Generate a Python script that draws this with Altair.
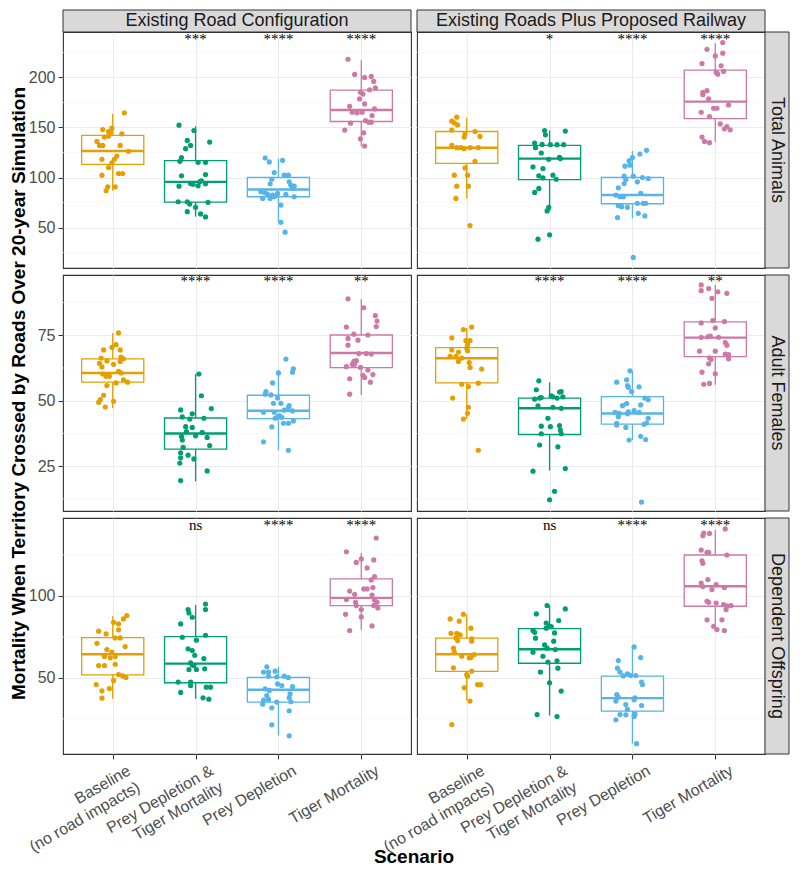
import json
import altair as alt
import pandas as pd

# ---------------- data ----------------
SCENARIOS = ["Baseline\n(no road impacts)", "Prey Depletion &\nTiger Mortality",
             "Prey Depletion", "Tiger Mortality"]
SCENARIO_KEYS = ["Baseline", "Prey Depletion & Tiger Mortality", "Prey Depletion", "Tiger Mortality"]
COLORS = ["#E69F00", "#009E73", "#56B4E9", "#CC79A7"]
CONFIGS = ["Existing Road Configuration", "Existing Roads Plus Proposed Railway"]
METRICS = ["Total Animals", "Adult Females", "Dependent Offspring"]
Y_TITLE = "Mortality When Territory Crossed by Roads Over 20-year Simulation"
X_TITLE = "Scenario"

Y_DOMAINS = [[9.6, 245.4], [7.9, 98.0], [3.5, 147.6]]
Y_MAJOR = [[50, 100, 150, 200], [25, 50, 75], [50, 100]]
Y_MINOR = [[25, 75, 125, 175, 225], [12.5, 37.5, 62.5, 87.5], [25, 75, 125]]
SIG_Y = [238.7, 95.7, 143.5]

SIG_TA_ROAD = ["", "***", "****", "****"]
SIG_TA_RAIL = ["", "*", "****", "****"]
SIG_AF_ROAD = ["", "****", "****", "**"]
SIG_AF_RAIL = ["", "****", "****", "**"]
SIG_DO_ROAD = ["", "ns", "****", "****"]
SIG_DO_RAIL = ["", "ns", "****", "****"]

# box statistics per scenario: (lower whisker, q1, median, q3, upper whisker)
BOX_TA_ROAD = [(86.8, 113.2, 126.5, 142.1, 163.6), (60.9, 75.5, 95.7, 116.9, 151.3),
               (55.3, 80.8, 88.1, 100.0, 118.9), (131.5, 156.0, 167.5, 187.4, 217.2)]
BOX_TA_RAIL = [(79.1, 114.2, 129.8, 146.0, 159.6), (66.6, 98.0, 118.9, 132.1, 147.0),
               (59.3, 73.8, 82.5, 100.0, 126.5), (135.4, 158.9, 175.8, 207.3, 234.1)]
BOX_AF_ROAD = [(47.1, 57.1, 60.6, 66.0, 75.9), (19.2, 31.5, 37.5, 43.4, 60.2),
               (31.1, 43.2, 46.2, 52.1, 61.8), (52.2, 62.6, 68.2, 75.1, 88.7)]
BOX_AF_RAIL = [(43.0, 56.8, 66.2, 70.3, 77.8), (23.3, 37.1, 47.1, 51.0, 57.0),
               (35.0, 41.1, 45.1, 51.6, 61.4), (56.1, 66.8, 74.1, 80.1, 94.2)]
BOX_DO_ROAD = [(37.2, 51.8, 64.4, 74.6, 87.6), (37.2, 47.0, 58.7, 75.2, 94.5),
               (14.8, 35.2, 42.7, 50.2, 56.7), (79.3, 94.1, 98.8, 110.4, 126.2)]
BOX_DO_RAIL = [(36.2, 53.9, 64.4, 74.2, 88.8), (27.0, 58.9, 67.5, 80.1, 94.1),
               (9.8, 29.7, 37.6, 51.0, 68.9), (78.9, 93.7, 105.9, 125.0, 140.4)]

# jittered points: (jitter offset in category units, value)
TA_ROAD_BASE = [(0.14,164.6),(-0.12,148.0),(-0.01,149.3),(-0.05,146.0),(-0.03,144.7),(-0.10,140.4),(-0.05,141.4),(0.11,143.7),(-0.19,136.1),(-0.16,132.1),(-0.12,132.1),(0.09,132.1),(0.19,126.2),(0.05,121.5),(0.02,118.2),(-0.13,118.2),(-0.01,114.6),(-0.05,109.9),(-0.13,102.3),(0.07,104.0),(0.12,104.0),(-0.06,90.7),(0.03,90.7),(-0.08,86.8)]
TA_ROAD_PDTM = [(-0.20,152.3),(-0.02,147.0),(-0.10,137.1),(0.17,135.4),(-0.06,132.1),(-0.12,128.8),(-0.17,119.9),(-0.19,116.2),(0.03,115.2),(0.12,115.2),(-0.17,101.7),(0.12,103.0),(-0.20,91.4),(-0.06,94.0),(-0.03,93.4),(0.05,95.7),(0.07,96.7),(0.03,91.7),(0.12,93.7),(-0.21,75.8),(-0.10,75.8),(-0.07,73.5),(0.00,70.2),(0.15,75.2),(-0.10,65.9),(0.06,63.6),(0.12,60.6)]
TA_ROAD_PD = [(-0.16,119.5),(-0.11,115.6),(0.05,117.2),(-0.05,105.0),(0.07,102.3),(0.12,102.3),(-0.08,98.3),(-0.10,93.7),(0.13,95.7),(0.15,92.4),(0.19,91.4),(0.17,89.1),(-0.21,85.8),(-0.16,84.8),(-0.13,83.1),(-0.07,82.5),(-0.01,84.1),(-0.19,79.1),(-0.10,79.1),(-0.05,80.8),(0.09,83.1),(0.19,80.8),(0.03,72.5),(0.03,55.3),(0.08,45.4)]
TA_ROAD_TM = [(-0.16,218.2),(-0.08,203.0),(0.04,200.0),(0.12,201.0),(0.15,196.0),(0.10,187.7),(0.17,189.7),(-0.01,185.1),(0.02,183.4),(-0.02,178.5),(0.04,173.5),(-0.14,171.2),(0.16,168.5),(-0.11,165.2),(-0.05,164.6),(0.01,165.2),(0.13,161.9),(0.05,157.0),(0.09,155.3),(0.12,155.3),(-0.13,154.3),(-0.20,147.4),(0.03,144.7),(-0.01,138.7),(0.04,131.5)]

TA_RAIL_BASE = [(-0.12,160.3),(-0.18,156.3),(-0.15,154.6),(-0.11,152.6),(-0.18,147.4),(-0.02,143.7),(0.10,146.0),(0.16,141.1),(-0.03,140.4),(-0.18,132.1),(-0.12,129.8),(-0.07,129.8),(-0.03,128.8),(0.04,129.8),(0.14,129.8),(0.10,116.2),(-0.02,109.6),(-0.15,102.3),(0.01,102.3),(-0.12,91.4),(0.02,91.4),(-0.13,79.1),(0.04,52.0)]
TA_RAIL_PDTM = [(-0.06,147.0),(-0.05,142.7),(0.19,146.4),(-0.18,134.4),(-0.09,133.1),(-0.17,129.8),(0.01,132.8),(0.09,132.8),(0.17,132.8),(-0.10,124.5),(0.12,120.2),(-0.01,118.2),(0.13,118.9),(-0.20,110.6),(-0.08,108.9),(0.04,102.3),(-0.13,101.7),(-0.08,99.7),(0.08,98.3),(-0.13,89.1),(-0.18,85.1),(-0.01,70.2),(-0.03,66.6),(0.00,42.7),(-0.14,38.4)]
TA_RAIL_PD = [(0.17,127.2),(0.09,123.5),(0.00,119.9),(-0.04,116.6),(-0.09,111.3),(-0.03,112.3),(-0.10,101.3),(0.01,101.3),(0.12,100.0),(0.19,99.0),(-0.08,98.0),(0.06,95.7),(-0.10,94.0),(-0.17,89.7),(0.10,84.1),(-0.20,82.5),(-0.15,80.8),(-0.11,80.8),(-0.17,71.9),(-0.13,70.9),(-0.06,70.2),(0.06,74.2),(0.13,74.2),(0.16,74.2),(0.07,64.2),(0.15,61.6),(-0.18,60.0),(0.01,20.2)]
TA_RAIL_TM = [(0.09,234.8),(-0.10,228.1),(0.00,221.5),(0.09,224.2),(-0.16,213.9),(0.07,211.6),(0.01,205.0),(0.03,203.3),(0.10,206.0),(-0.15,185.1),(-0.10,186.8),(-0.15,182.8),(-0.08,178.5),(0.16,172.5),(-0.02,169.2),(0.02,169.2),(-0.17,165.2),(-0.07,160.9),(0.06,153.6),(0.14,151.0),(0.11,148.7),(0.18,147.7),(-0.16,140.4),(-0.13,136.1),(-0.07,134.8)]

AF_ROAD_BASE = [(0.07,75.9),(0.04,71.4),(-0.01,70.4),(-0.11,69.4),(0.09,69.4),(-0.14,66.3),(0.10,66.7),(0.13,66.0),(-0.07,65.2),(-0.16,64.3),(0.01,63.9),(0.09,65.0),(-0.13,62.9),(-0.12,60.2),(-0.05,59.7),(0.07,61.2),(0.10,60.6),(-0.08,59.3),(-0.04,59.3),(0.13,58.0),(0.18,57.1),(0.04,56.8),(-0.07,55.8),(-0.11,52.1),(-0.15,50.4),(-0.17,49.4),(0.01,49.8),(-0.09,47.6)]
AF_ROAD_PDTM = [(0.04,60.2),(0.07,51.9),(-0.18,46.5),(0.19,47.0),(-0.04,45.0),(-0.16,43.8),(-0.07,43.0),(0.10,43.3),(-0.12,40.1),(-0.04,39.8),(-0.11,38.2),(-0.17,36.3),(0.00,36.6),(0.08,37.9),(0.14,36.0),(-0.16,35.0),(-0.15,32.2),(0.17,32.9),(-0.18,30.1),(-0.09,29.2),(-0.18,28.2),(-0.02,27.8),(-0.19,26.2),(0.14,23.2),(-0.18,19.5)]
AF_ROAD_PD = [(0.09,65.9),(0.18,62.2),(0.17,60.9),(0.00,60.6),(-0.07,56.8),(-0.15,53.5),(-0.09,52.2),(-0.16,52.5),(-0.01,51.0),(-0.06,49.0),(0.03,49.0),(0.13,48.1),(0.12,47.4),(-0.18,45.6),(-0.05,45.6),(0.07,46.4),(0.17,46.1),(0.01,44.3),(-0.01,43.8),(-0.04,43.3),(0.04,43.7),(0.06,41.4),(0.12,41.4),(0.18,42.3),(-0.08,40.0),(-0.18,34.3),(0.12,31.1)]
AF_ROAD_TM = [(-0.16,88.9),(0.03,85.5),(0.17,82.5),(0.19,80.4),(0.18,78.3),(-0.18,78.1),(-0.09,75.4),(0.08,75.1),(-0.16,73.8),(-0.04,73.1),(-0.16,71.2),(-0.03,68.0),(0.06,68.0),(0.12,67.8),(-0.09,65.0),(-0.06,65.3),(-0.11,63.9),(-0.08,63.9),(-0.18,63.0),(-0.01,62.7),(0.08,61.7),(0.02,59.7),(0.04,58.9),(0.14,60.0),(-0.14,58.4),(0.11,57.1),(-0.14,52.5)]

AF_RAIL_BASE = [(-0.04,77.2),(0.06,78.1),(-0.18,74.0),(-0.01,73.0),(0.04,73.0),(0.01,71.4),(0.00,70.1),(-0.18,69.4),(0.01,69.1),(-0.10,68.6),(-0.20,66.9),(-0.13,66.9),(-0.06,66.3),(-0.10,65.0),(0.03,64.6),(0.04,62.7),(0.18,62.1),(-0.06,56.3),(0.02,55.4),(0.14,56.7),(-0.17,51.0),(0.02,47.5),(0.01,45.2),(-0.04,43.0),(0.14,31.1)]
AF_RAIL_PDTM = [(-0.13,57.6),(-0.16,54.2),(0.14,53.5),(0.12,53.3),(-0.18,50.6),(-0.12,51.0),(-0.10,51.2),(0.02,51.9),(0.04,51.5),(0.09,51.0),(0.16,51.5),(-0.14,48.0),(0.04,47.5),(0.14,47.1),(-0.02,43.3),(-0.10,40.3),(0.01,40.1),(0.12,40.5),(0.13,38.8),(-0.10,37.4),(0.14,37.4),(-0.12,33.1),(0.10,32.4),(-0.20,23.1),(0.19,24.1),(0.06,15.4),(0.00,12.2)]
AF_RAIL_PD = [(-0.03,61.4),(-0.19,57.1),(-0.07,58.0),(0.08,55.3),(-0.06,55.8),(-0.05,55.1),(-0.01,53.5),(0.15,51.0),(0.19,50.4),(-0.07,48.9),(-0.12,48.1),(0.10,48.4),(-0.16,45.2),(-0.05,45.8),(0.02,46.2),(0.08,45.6),(-0.21,45.6),(-0.17,43.9),(-0.06,45.0),(0.19,43.3),(-0.19,41.4),(-0.19,40.7),(-0.08,39.8),(0.14,41.0),(0.17,41.5),(0.10,36.4),(0.16,35.2),(-0.04,35.0),(0.11,11.3)]
AF_RAIL_TM = [(-0.17,94.2),(-0.17,92.0),(-0.08,92.8),(0.03,91.6),(0.14,91.0),(-0.04,89.1),(-0.17,79.7),(-0.03,80.6),(0.11,80.2),(0.00,77.8),(-0.09,74.4),(-0.06,74.7),(-0.17,74.2),(0.04,74.2),(0.12,72.2),(0.14,71.2),(-0.19,68.9),(0.00,68.9),(0.12,67.8),(0.16,67.6),(0.16,66.0),(-0.07,66.4),(-0.05,65.8),(-0.08,64.1),(-0.16,60.9),(0.00,60.3),(-0.14,56.3),(-0.07,56.6)]

DO_ROAD_BASE = [(0.17,88.0),(0.13,86.0),(0.01,83.9),(0.07,82.9),(0.07,79.3),(-0.17,78.5),(-0.08,76.8),(0.03,74.4),(0.09,74.4),(-0.19,71.1),(0.15,69.1),(-0.07,67.3),(-0.01,65.7),(-0.10,63.0),(-0.03,62.2),(0.03,63.0),(0.03,58.3),(-0.17,57.5),(-0.10,57.5),(0.07,52.0),(0.12,51.2),(0.16,50.2),(0.01,48.4),(-0.20,45.9),(-0.04,43.5),(-0.13,42.1),(-0.13,37.6)]
DO_ROAD_PDTM = [(0.12,95.1),(0.12,91.7),(-0.09,91.7),(-0.08,89.6),(-0.04,87.0),(-0.18,82.9),(-0.16,74.8),(0.12,76.0),(0.01,73.0),(-0.09,67.7),(-0.04,66.7),(0.10,61.8),(-0.01,63.8),(-0.06,59.1),(-0.04,57.9),(-0.02,57.5),(-0.08,55.1),(0.11,55.5),(0.01,55.1),(-0.21,47.4),(-0.06,47.4),(-0.06,45.3),(0.13,44.3),(0.18,44.3),(-0.18,41.1),(0.09,37.8),(0.16,37.0)]
DO_ROAD_PD = [(-0.14,56.7),(-0.18,53.5),(-0.12,53.5),(-0.04,54.1),(-0.12,51.0),(-0.02,50.6),(0.07,51.0),(0.12,50.2),(-0.01,46.3),(0.04,45.3),(0.17,44.7),(-0.16,43.3),(-0.11,42.3),(0.14,40.2),(-0.14,39.2),(-0.18,36.4),(-0.12,36.8),(-0.02,35.2),(0.15,35.4),(0.13,37.8),(-0.19,33.9),(-0.08,31.7),(0.13,29.9),(-0.08,21.3),(0.13,14.6)]
DO_ROAD_TM = [(0.18,135.4),(-0.18,127.0),(0.00,122.6),(-0.06,120.5),(0.15,122.0),(0.07,117.1),(0.16,111.8),(0.12,109.8),(0.03,104.3),(0.07,104.3),(0.14,105.1),(-0.14,103.0),(-0.08,101.0),(0.13,100.6),(-0.18,97.8),(-0.07,96.1),(0.16,97.6),(0.19,96.1),(0.15,94.1),(0.20,92.7),(-0.06,94.1),(0.00,91.7),(-0.19,88.8),(0.00,87.2),(-0.14,78.9),(0.13,81.7)]

DO_RAIL_BASE = [(-0.04,88.8),(-0.20,86.0),(-0.09,84.6),(0.05,80.3),(-0.19,77.2),(-0.12,77.2),(-0.08,76.2),(-0.13,74.4),(-0.11,72.8),(0.06,73.8),(0.06,72.4),(-0.16,68.1),(-0.15,65.7),(-0.06,63.2),(0.09,64.2),(0.05,62.4),(0.03,62.2),(-0.16,56.1),(0.06,54.1),(0.00,52.0),(0.01,51.0),(0.13,45.9),(0.17,45.9),(-0.03,43.9),(0.04,35.8),(-0.18,21.5)]
DO_RAIL_PDTM = [(-0.03,94.1),(0.19,92.1),(-0.16,89.0),(0.11,85.0),(-0.04,83.5),(-0.04,80.3),(0.00,81.5),(0.02,81.3),(-0.20,78.9),(-0.18,77.8),(0.06,77.4),(-0.17,74.2),(0.05,72.4),(-0.06,70.1),(-0.20,65.7),(0.07,67.3),(-0.03,68.1),(-0.08,63.2),(-0.02,59.6),(0.09,60.4),(0.10,55.9),(-0.11,53.5),(0.00,47.0),(0.14,41.9),(-0.15,27.6),(0.09,26.4)]
DO_RAIL_PD = [(0.02,68.9),(0.10,62.4),(-0.17,60.6),(-0.18,55.9),(-0.15,53.5),(-0.11,51.2),(-0.06,52.4),(-0.02,51.4),(0.04,51.4),(0.11,47.4),(0.12,45.9),(-0.19,39.8),(-0.17,38.2),(0.03,37.8),(-0.08,33.7),(0.11,33.1),(-0.20,35.8),(0.02,36.6),(-0.06,30.7),(-0.15,27.6),(-0.08,27.4),(0.03,28.0),(0.02,26.4),(-0.20,24.4),(0.05,9.8)]
DO_RAIL_TM = [(0.12,140.9),(-0.14,138.4),(-0.15,136.8),(-0.07,138.2),(-0.17,128.0),(-0.10,126.6),(-0.08,126.6),(0.14,125.0),(-0.16,121.5),(-0.15,119.9),(-0.09,110.0),(-0.17,107.9),(0.01,106.9),(-0.15,105.7),(0.11,105.1),(-0.04,103.9),(-0.10,96.7),(-0.08,96.1),(0.01,95.7),(0.10,94.7),(0.14,93.9),(0.19,94.1),(0.13,91.7),(-0.10,85.4),(0.08,85.4),(-0.02,81.5),(0.02,79.5),(0.11,78.9)]

PANELS = [
    [([TA_ROAD_BASE, TA_ROAD_PDTM, TA_ROAD_PD, TA_ROAD_TM], BOX_TA_ROAD, SIG_TA_ROAD),
     ([TA_RAIL_BASE, TA_RAIL_PDTM, TA_RAIL_PD, TA_RAIL_TM], BOX_TA_RAIL, SIG_TA_RAIL)],
    [([AF_ROAD_BASE, AF_ROAD_PDTM, AF_ROAD_PD, AF_ROAD_TM], BOX_AF_ROAD, SIG_AF_ROAD),
     ([AF_RAIL_BASE, AF_RAIL_PDTM, AF_RAIL_PD, AF_RAIL_TM], BOX_AF_RAIL, SIG_AF_RAIL)],
    [([DO_ROAD_BASE, DO_ROAD_PDTM, DO_ROAD_PD, DO_ROAD_TM], BOX_DO_ROAD, SIG_DO_ROAD),
     ([DO_RAIL_BASE, DO_RAIL_PDTM, DO_RAIL_PD, DO_RAIL_TM], BOX_DO_RAIL, SIG_DO_RAIL)],
]

# ---------------- layout / style ----------------
W, H = 348, 236
STRIP_TOP, STRIP_RIGHT = 22, 24
BOX_W = 0.75
X_DOMAIN = [0.4, 4.6]
FONT = "Liberation Sans"
GRID = "#EBEBEB"
LABEL_GREY = "#4D4D4D"

label_expr = "".join(
    f"datum.value == {k + 1} ? {json.dumps(s.split(chr(10)))} : " for k, s in enumerate(SCENARIOS)
) + "''"

color_scale = alt.Scale(domain=SCENARIO_KEYS, range=COLORS)


def x_axis(bottom):
    if bottom:
        return alt.Axis(values=[1, 2, 3, 4], grid=True, gridColor=GRID, domain=False,
                        labels=True, ticks=True, tickSize=5, tickColor="#333333",
                        labelExpr=label_expr, labelAngle=-30, labelAlign="right",
                        labelBaseline="top", labelPadding=3, labelOffset=12,
                        labelFontSize=16, labelColor=LABEL_GREY, labelLineHeight=19,
                        labelOverlap=False, labelFlush=False, labelFont=FONT, title=None)
    return alt.Axis(values=[1, 2, 3, 4], grid=True, gridColor=GRID, domain=False,
                    labels=False, ticks=False, title=None)


def y_axis(r, c):
    if c == 0:
        kw = dict(values=Y_MAJOR[r], grid=True, gridColor=GRID, domain=False,
                  labels=True, ticks=True, tickSize=5, tickColor="#333333",
                  labelFontSize=16, labelColor=LABEL_GREY, labelPadding=3,
                  labelFlush=False, labelOverlap=False, labelFont=FONT)
        if r == 1:
            return alt.Axis(title=Y_TITLE, titleFontSize=19, titleFontWeight="bold",
                            titleColor="black", titlePadding=9, titleFont=FONT, **kw)
        return alt.Axis(title=None, **kw)
    return alt.Axis(values=Y_MAJOR[r], grid=True, gridColor=GRID, domain=False,
                    labels=False, ticks=False, title=None)


def build_panel(r, c):
    groups, box, sig = PANELS[r][c]
    xs = alt.Scale(domain=X_DOMAIN, nice=False, zero=False)
    ys = alt.Scale(domain=Y_DOMAINS[r], nice=False, zero=False)
    xa = x_axis(r == 2)
    ya = y_axis(r, c)

    def X(f):
        return alt.X(f, type="quantitative", scale=xs, axis=xa)

    def Y(f):
        return alt.Y(f, type="quantitative", scale=ys, axis=ya)

    pts = pd.DataFrame([
        {"scenario": SCENARIO_KEYS[k], "x": k + 1 + j, "value": v}
        for k, grp in enumerate(groups) for j, v in grp
    ])
    bx = pd.DataFrame([
        {"scenario": SCENARIO_KEYS[k], "x": k + 1, "x_lo": k + 1 - BOX_W / 2,
         "x_hi": k + 1 + BOX_W / 2, "lo": b[0], "q1": b[1], "med": b[2], "q3": b[3],
         "hi": b[4], "sig": sig[k], "sig_y": SIG_Y[r]}
        for k, b in enumerate(box)
    ])
    minor = pd.DataFrame({"m": Y_MINOR[r]})
    one = pd.DataFrame({"k": [0]})

    col = alt.Color("scenario:N", scale=color_scale, legend=None)
    stroke = alt.Stroke("scenario:N", scale=color_scale, legend=None)

    minor_l = alt.Chart(minor).mark_rule(color="#F3F3F3", strokeWidth=0.6).encode(y=Y("m"))
    base = alt.Chart(bx)
    whisk_hi = base.mark_rule(strokeWidth=1.3).encode(x=X("x"), y=Y("q3"), y2="hi", color=col)
    whisk_lo = base.mark_rule(strokeWidth=1.3).encode(x=X("x"), y=Y("lo"), y2="q1", color=col)
    rect = base.mark_rect(fill="white", strokeWidth=1.3).encode(
        x=X("x_lo"), x2="x_hi", y=Y("q1"), y2="q3", stroke=stroke)
    med = base.mark_rule(strokeWidth=2.4).encode(x=X("x_lo"), x2="x_hi", y=Y("med"), color=col)
    points = alt.Chart(pts).mark_circle(size=27, opacity=1).encode(
        x=X("x"), y=Y("value"), color=col)
    sig_l = base.mark_text(font="Liberation Serif", fontSize=15, color="black",
                           baseline="middle").encode(x=X("x"), y=Y("sig_y"), text="sig:N")

    layers = [minor_l, whisk_hi, whisk_lo, rect, med, points, sig_l]

    if r == 0:
        layers.append(alt.Chart(one).mark_rect(fill="#D9D9D9", stroke="#333333", strokeWidth=1).encode(
            x=alt.value(0), x2=alt.value(W), y=alt.value(-STRIP_TOP), y2=alt.value(0)))
        layers.append(alt.Chart(one).mark_text(text=CONFIGS[c], fontSize=18, color="#1A1A1A",
                                               font=FONT, baseline="middle").encode(
            x=alt.value(W / 2), y=alt.value(-STRIP_TOP / 2)))
    if c == 1:
        layers.append(alt.Chart(one).mark_rect(fill="#D9D9D9", stroke="#333333", strokeWidth=1).encode(
            x=alt.value(W), x2=alt.value(W + STRIP_RIGHT), y=alt.value(0), y2=alt.value(H)))
        layers.append(alt.Chart(one).mark_text(text=METRICS[r], fontSize=18, color="#1A1A1A",
                                               font=FONT, angle=90, baseline="middle").encode(
            x=alt.value(W + STRIP_RIGHT / 2), y=alt.value(H / 2)))
    if r == 2 and c == 0:
        layers.append(alt.Chart(one).mark_text(text=X_TITLE, fontSize=19, fontWeight="bold",
                                               color="black", font=FONT, baseline="middle").encode(
            x=alt.value(W + 3), y=alt.value(H + 103)))

    return alt.layer(*layers).properties(width=W, height=H)


panels = [build_panel(r, c) for r in range(3) for c in range(2)]

chart = alt.concat(*panels, columns=2, spacing={"row": 7, "column": 6}, bounds="flush").properties(
    padding={"left": 0, "top": 0, "right": 0, "bottom": 0}
).configure(font=FONT).configure_view(stroke="#333333", strokeWidth=1.1, fill="white")

chart.save("out.html", embed_options={"renderer": "svg", "actions": False})
